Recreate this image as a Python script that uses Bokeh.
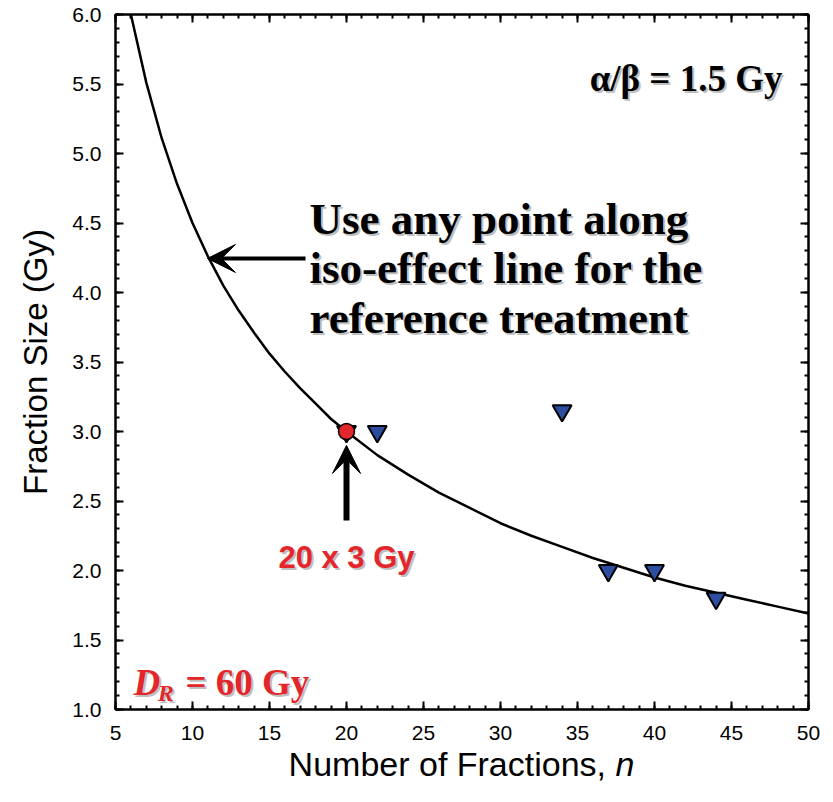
from bokeh.plotting import figure
from bokeh.layouts import column
from bokeh.models import (Range1d, SingleIntervalTicker, LinearAxis, Label, Arrow,
                          VeeHead, NumeralTickFormatter, CustomJSTickFormatter, Div)
from bokeh.embed import file_html
from bokeh.resources import INLINE

# ---- data ----
curve_n = [6, 7, 8, 9, 10, 11, 12, 13, 14, 15, 16, 17, 18, 19, 20, 22, 24, 26, 28, 30,
           32, 34, 36, 38, 40, 42, 44, 46, 48, 50]
curve_d = [6.00, 5.51, 5.11, 4.78, 4.50, 4.26, 4.05, 3.87, 3.71, 3.56, 3.43, 3.31, 3.20,
           3.09, 3.00, 2.83, 2.69, 2.56, 2.45, 2.34, 2.25, 2.17, 2.09, 2.02, 1.95, 1.89,
           1.84, 1.79, 1.74, 1.69]
tri_n = [20, 22, 34, 37, 40, 44]
tri_d = [3.0, 3.0, 3.15, 2.0, 2.0, 1.8]
ref_n = [20]
ref_d = [3.0]

RED = "#E3262B"
BLUE = "#2D4EA0"
SANS = "Liberation Sans"
SERIF = "Liberation Serif"

p = figure(width=833, height=757, x_range=Range1d(5, 50), y_range=Range1d(1, 6),
           output_backend="svg", toolbar_location=None,
           min_border_left=115, min_border_right=25, min_border_top=14, min_border_bottom=48)
p.xgrid.visible = False
p.ygrid.visible = False
p.outline_line_color = "black"
p.outline_line_width = 2
p.background_fill_color = "white"
p.border_fill_color = "white"

def style_axis(ax):
    ax.axis_line_width = 2
    ax.major_tick_line_width = 2
    ax.minor_tick_line_width = 2
    ax.major_tick_in = 8
    ax.major_tick_out = 0
    ax.minor_tick_in = 4
    ax.minor_tick_out = 0
    ax.major_label_text_font = SANS
    ax.major_label_text_font_size = "21px"
    ax.major_label_text_color = "black"

p.xaxis.ticker = SingleIntervalTicker(interval=5, num_minor_ticks=5)
p.yaxis.ticker = SingleIntervalTicker(interval=0.5, num_minor_ticks=5)
p.yaxis.formatter = NumeralTickFormatter(format="0.0")
style_axis(p.xaxis[0])
style_axis(p.yaxis[0])
p.xaxis.major_label_standoff = 16
p.yaxis.major_label_standoff = 14
p.xaxis.axis_label = None
p.yaxis.axis_label = "Fraction Size (Gy)"
p.yaxis.axis_label_text_font = SANS
p.yaxis.axis_label_text_font_style = "normal"
p.yaxis.axis_label_text_font_size = "33px"
p.yaxis.axis_label_text_color = "black"
p.yaxis.axis_label_standoff = 15

blank = CustomJSTickFormatter(code="return ''")
top = LinearAxis(ticker=SingleIntervalTicker(interval=5, num_minor_ticks=5), formatter=blank)
style_axis(top)
top.major_label_standoff = 0
p.add_layout(top, "above")
right = LinearAxis(ticker=SingleIntervalTicker(interval=0.5, num_minor_ticks=5), formatter=blank)
style_axis(right)
right.major_label_standoff = 0
p.add_layout(right, "right")

# iso-effect curve
p.line(curve_n, curve_d, line_color="black", line_width=2.5)
# data points
p.scatter(tri_n, tri_d, marker="inverted_triangle", size=19, fill_color=BLUE,
          line_color="black", line_width=2)
p.scatter(ref_n, ref_d, marker="circle", size=16, fill_color=RED,
          line_color="black", line_width=1.5)

# arrows
p.add_layout(Arrow(end=VeeHead(size=28, fill_color="black", line_color="black"),
                   x_start=17.34, y_start=4.245, x_end=10.97, y_end=4.245,
                   line_width=4, line_color="black"))
p.add_layout(Arrow(end=VeeHead(size=28, fill_color="black", line_color="black"),
                   x_start=20, y_start=2.36, x_end=20, y_end=2.90,
                   line_width=6, line_color="black"))

def shadow_label(text, x, y, size, color="black", font=SERIF, style="bold",
                 align="left"):
    p.add_layout(Label(x=x, y=y, text=text, x_offset=2, y_offset=-2,
                       text_font=font, text_font_size=size, text_font_style=style,
                       text_color="#888888", text_alpha=0.55, text_align=align,
                       text_baseline="alphabetic"))
    p.add_layout(Label(x=x, y=y, text=text, text_font=font, text_font_size=size,
                       text_font_style=style, text_color=color, text_align=align,
                       text_baseline="alphabetic"))

shadow_label("Use any point along", 17.6, 4.532, "45px")
shadow_label("iso-effect line for the", 17.6, 4.173, "45px")
shadow_label("reference treatment", 17.6, 3.820, "45px")
shadow_label("\u03b1/\u03b2 = 1.5 Gy", 48.31, 5.54, "37px", align="right")
shadow_label("20 x 3 Gy", 20.0, 2.094, "31px", color=RED, font=SANS, style="bold",
             align="center")
shadow_label("D", 6.17, 1.194, "37px", color=RED, style="bold italic")
shadow_label("R", 7.75, 1.122, "24px", color=RED, style="bold italic")
shadow_label("= 60 Gy", 9.545, 1.194, "37px", color=RED, style="bold")

xlabel = Div(
    text=('<div style="position:relative; top:-10px; width:693px; text-align:center; '
          'font-family:\'Liberation Sans\'; font-size:34px; line-height:34px; color:black; '
          'white-space:nowrap;">Number of Fractions, <i>n</i></div>'),
    width=693, height=45, margin=(0, 0, 0, 115))

layout = column(p, xlabel, spacing=0)
open("out.html", "w").write(file_html(layout, INLINE))
